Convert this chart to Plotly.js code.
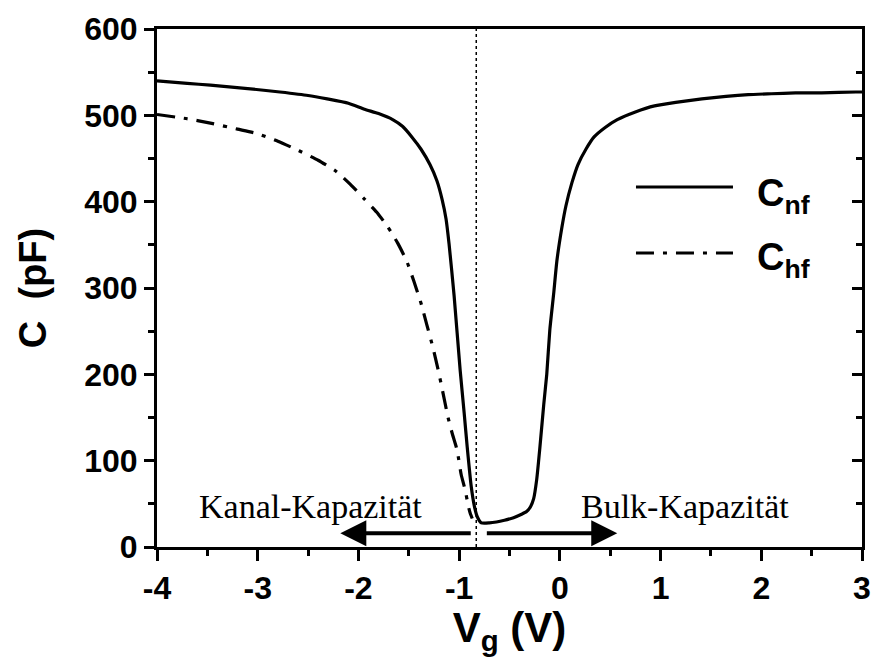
<!DOCTYPE html>
<html>
<head>
<meta charset="utf-8">
<script src="https://cdn.plot.ly/plotly-3.0.1.min.js"></script>
<style>html,body{margin:0;padding:0;background:#fff;}#plot{width:872px;height:657px;}</style>
</head>
<body>
<div id="plot"></div>
<script>
// Gate voltage (V) and capacitance (pF), low-frequency curve C_nf
const Vnf = [-4, -3.7, -3.47, -3.1, -2.78, -2.5, -2.31, -2.1, -1.94, -1.8, -1.66, -1.56, -1.47, -1.38, -1.29, -1.22, -1.17, -1.13, -1.10, -1.05, -0.99, -0.95, -0.92, -0.88, -0.85, -0.82, -0.78, -0.7, -0.63, -0.55, -0.46, -0.38, -0.33, -0.29, -0.26, -0.23, -0.2, -0.16, -0.13, -0.1, -0.06, -0.03, 0.02, 0.06, 0.12, 0.18, 0.26, 0.34, 0.45, 0.57, 0.75, 0.94, 1.15, 1.41, 1.65, 1.87, 2.1, 2.34, 2.6, 2.94, 3];
const Cnf = [540, 537, 535, 531, 527, 523, 519, 514, 507, 502, 495, 487, 475, 461, 443, 424, 403, 380, 351, 291, 205, 155, 116, 70, 48, 35, 28, 28, 29, 31, 34, 38, 41, 47, 56, 78, 113, 165, 200, 251, 295, 331, 370, 395, 422, 443, 461, 475, 486, 495, 504, 511, 515, 519, 522, 524, 525, 526, 526, 527, 527];
// High-frequency curve C_hf
const Vhf = [-4, -3.7, -3.47, -3.2, -3.01, -2.8, -2.59, -2.4, -2.22, -2.08, -1.94, -1.82, -1.71, -1.61, -1.52, -1.45, -1.38, -1.32, -1.26, -1.21, -1.17, -1.11, -1.07, -1.02, -0.98, -0.94, -0.91, -0.89, -0.87];
const Chf = [501, 496, 491, 484, 479, 470, 459, 448, 435, 420, 403, 388, 371, 352, 331, 308, 283, 257, 231, 206, 184, 150, 132, 112, 84, 66, 48, 39, 33];
// Labels and reference values
const seriesNames = ['C<sub>nf</sub>', 'C<sub>hf</sub>'];
const seriesDash = ['solid', '18px,9px,4px,9px'];
const xTicks = [-4, -3, -2, -1, 0, 1, 2, 3];
const yTicks = [0, 100, 200, 300, 400, 500, 600];
const Vflat = -0.83;            // dotted vertical line
const arrowY = 16;
const leftArrow = {from: -0.87, to: -2.18};
const rightArrow = {from: -0.74, to: 0.57};
const leftLabel = {text: 'Kanal-Kapazität', x: -2.48, y: 47};
const rightLabel = {text: 'Bulk-Kapazität', x: 1.24, y: 47};

const boldFont = {family: 'Liberation Sans, Arial, sans-serif', weight: 'bold', color: '#000'};
const serifFont = {family: 'Liberation Serif, Times New Roman, serif', size: 34, color: '#000'};

const traces = [
  {x: Vnf, y: Cnf, name: seriesNames[0], mode: 'lines', showlegend: false,
   line: {color: '#000', width: 3.2, dash: seriesDash[0], shape: 'spline', smoothing: 0.5}},
  {x: Vhf, y: Chf, name: seriesNames[1], mode: 'lines', showlegend: false,
   line: {color: '#000', width: 3.2, dash: seriesDash[1], shape: 'spline', smoothing: 0.5}},
  // empty trace that only registers the right-hand tick axis
  {x: [], y: [], yaxis: 'y2', mode: 'lines', showlegend: false, hoverinfo: 'skip'}
];

// hand-placed legend (long sample lines as in the reference)
const legendRows = [{y: 0.695, ty: 0.677}, {y: 0.5676, ty: 0.554}];
const legendShapes = legendRows.map((r, i) => ({
  type: 'line', xref: 'paper', yref: 'paper', x0: 0.6794, x1: 0.817, y0: r.y, y1: r.y,
  line: {color: '#000', width: 3.2, dash: seriesDash[i]}
}));
const legendTexts = legendRows.map((r, i) => ({
  xref: 'paper', yref: 'paper', x: 0.848, y: r.ty, xanchor: 'left', yanchor: 'middle',
  text: seriesNames[i], showarrow: false, font: Object.assign({size: 38}, boldFont)
}));

const layout = {
  width: 872, height: 657,
  margin: {l: 157, r: 10, t: 29, b: 110},
  paper_bgcolor: '#fff', plot_bgcolor: '#fff',
  showlegend: false,
  xaxis: {range: [-4, 3], tickvals: xTicks, ticktext: xTicks.map(String),
          ticks: 'outside', ticklen: 11, tickwidth: 3, tickcolor: '#000',
          minor: {tickvals: [-3.5, -2.5, -1.5, -0.5, 0.5, 1.5, 2.5], ticks: 'outside', ticklen: 6, tickwidth: 3, tickcolor: '#000'},
          showline: true, linewidth: 3, linecolor: '#000', mirror: true,
          showgrid: false, zeroline: false,
          tickfont: Object.assign({size: 32}, boldFont),
          title: {text: 'V<sub>g</sub> (V)', font: Object.assign({size: 42}, boldFont), standoff: 2}},
  yaxis: {range: [0, 600], tickvals: yTicks, ticktext: yTicks.map(String),
          ticks: 'outside', ticklen: 10, tickwidth: 3, tickcolor: '#000',
          minor: {tickvals: [50, 150, 250, 350, 450, 550], ticks: 'outside', ticklen: 6, tickwidth: 3, tickcolor: '#000'},
          showline: true, linewidth: 3, linecolor: '#000', mirror: true,
          showgrid: false, zeroline: false,
          tickfont: Object.assign({size: 32}, boldFont),
          title: {text: 'C\u00a0\u00a0(pF)', font: Object.assign({size: 38}, boldFont), standoff: 26}},
  yaxis2: {range: [0, 600], overlaying: 'y', side: 'right', tickvals: yTicks,
           ticks: 'inside', ticklen: 10, tickwidth: 3, tickcolor: '#000', showticklabels: false,
           minor: {tickvals: [50, 150, 250, 350, 450, 550], ticks: 'inside', ticklen: 6, tickwidth: 3, tickcolor: '#000'},
           showline: false, showgrid: false, zeroline: false},
  shapes: [
    {type: 'line', xref: 'x', yref: 'paper', x0: Vflat, x1: Vflat, y0: 0, y1: 1,
     line: {color: '#000', width: 1.5, dash: '3px,3px'}}
  ].concat(legendShapes),
  annotations: [
    {x: leftArrow.to, y: arrowY, ax: leftArrow.from, ay: arrowY, xref: 'x', yref: 'y', axref: 'x', ayref: 'y',
     showarrow: true, arrowhead: 2, arrowsize: 1.3, arrowwidth: 4, arrowcolor: '#000', text: ''},
    {x: rightArrow.to, y: arrowY, ax: rightArrow.from, ay: arrowY, xref: 'x', yref: 'y', axref: 'x', ayref: 'y',
     showarrow: true, arrowhead: 2, arrowsize: 1.3, arrowwidth: 4, arrowcolor: '#000', text: ''},
    {x: leftLabel.x, y: leftLabel.y, xref: 'x', yref: 'y', text: leftLabel.text, showarrow: false, font: serifFont},
    {x: rightLabel.x, y: rightLabel.y, xref: 'x', yref: 'y', text: rightLabel.text, showarrow: false, font: serifFont}
  ].concat(legendTexts)
};

Plotly.newPlot('plot', traces, layout, {displayModeBar: false, staticPlot: true});
</script>
</body>
</html>
